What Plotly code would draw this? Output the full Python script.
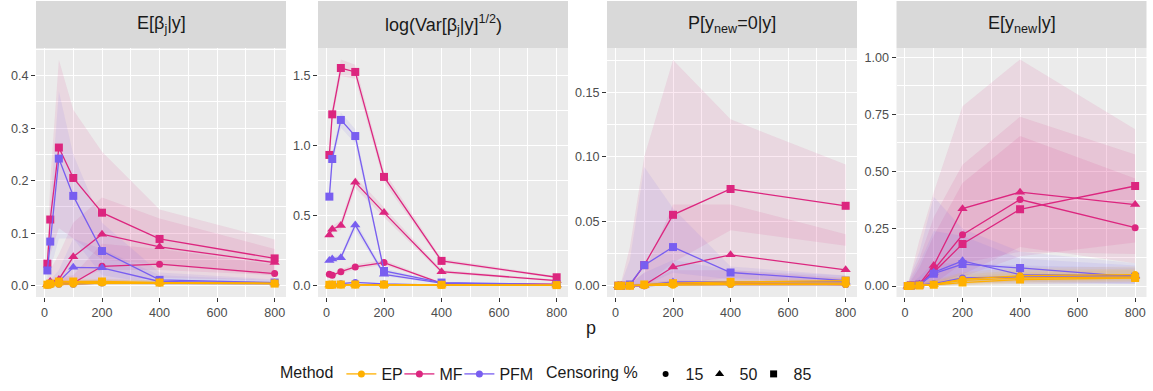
import plotly.graph_objects as go

# ---------------- data ----------------
p_vals = [10, 20, 50, 100, 200, 400, 800]
methods = ["EP", "MF", "PFM"]
censoring = ["15", "50", "85"]
panel_titles = ["E[β<sub>j</sub>|y]", "log(Var[β<sub>j</sub>|y]<sup>1/2</sup>)",
                "P[y<sub>new</sub>=0|y]", "E[y<sub>new</sub>|y]"]

# Panel 1: E[beta_j | y]
e_beta_mean = {
    ("EP", "15"): [0.001, 0.002, 0.003, 0.003, 0.005, 0.005, 0.004],
    ("EP", "50"): [0.002, 0.003, 0.005, 0.006, 0.007, 0.006, 0.005],
    ("EP", "85"): [0.002, 0.004, 0.008, 0.008, 0.008, 0.006, 0.004],
    ("MF", "15"): [0.002, 0.003, 0.005, 0.005, 0.037, 0.041, 0.023],
    ("MF", "50"): [0.003, 0.008, 0.012, 0.055, 0.098, 0.074, 0.044],
    ("MF", "85"): [0.042, 0.126, 0.263, 0.205, 0.139, 0.089, 0.052],
    ("PFM", "15"): [0.001, 0.002, 0.003, 0.003, 0.005, 0.005, 0.004],
    ("PFM", "50"): [0.002, 0.005, 0.008, 0.035, 0.034, 0.008, 0.005],
    ("PFM", "85"): [0.029, 0.084, 0.242, 0.171, 0.066, 0.011, 0.006],
}
e_beta_lo = {
    ("EP", "15"): [0.0, 0.0, 0.0, 0.0, 0.002, 0.002, 0.002],
    ("EP", "50"): [0.0, 0.0, 0.001, 0.002, 0.003, 0.003, 0.002],
    ("EP", "85"): [0.0, 0.001, 0.003, 0.004, 0.004, 0.003, 0.002],
    ("MF", "15"): [0.0, 0.0, 0.0, 0.0, 0.005, 0.015, 0.01],
    ("MF", "50"): [0.0, 0.0, 0.0, 0.01, 0.03, 0.03, 0.02],
    ("MF", "85"): [0.02, 0.06, 0.11, 0.09, 0.05, 0.04, 0.02],
    ("PFM", "15"): [0.0, 0.0, 0.0, 0.0, 0.002, 0.002, 0.002],
    ("PFM", "50"): [0.0, 0.0, 0.0, 0.005, 0.005, 0.002, 0.002],
    ("PFM", "85"): [0.01, 0.03, 0.09, 0.09, 0.02, 0.003, 0.002],
}
e_beta_hi = {
    ("EP", "15"): [0.003, 0.005, 0.007, 0.008, 0.01, 0.009, 0.007],
    ("EP", "50"): [0.005, 0.007, 0.01, 0.011, 0.012, 0.01, 0.008],
    ("EP", "85"): [0.006, 0.009, 0.014, 0.014, 0.013, 0.01, 0.007],
    ("MF", "15"): [0.005, 0.008, 0.015, 0.02, 0.08, 0.07, 0.04],
    ("MF", "50"): [0.01, 0.03, 0.06, 0.12, 0.168, 0.128, 0.07],
    ("MF", "85"): [0.06, 0.2, 0.43, 0.335, 0.255, 0.145, 0.088],
    ("PFM", "15"): [0.003, 0.005, 0.008, 0.009, 0.012, 0.01, 0.008],
    ("PFM", "50"): [0.005, 0.01, 0.03, 0.09, 0.07, 0.02, 0.01],
    ("PFM", "85"): [0.05, 0.15, 0.37, 0.25, 0.12, 0.025, 0.012],
}

# Panel 2: log(Var[beta_j|y]^(1/2))
log_sd_mean = {
    ("EP", "15"): [0.004, 0.005, 0.006, 0.006, 0.006, 0.005, 0.004],
    ("EP", "50"): [0.006, 0.007, 0.008, 0.008, 0.008, 0.006, 0.005],
    ("EP", "85"): [0.008, 0.009, 0.01, 0.01, 0.01, 0.008, 0.006],
    ("MF", "15"): [0.083, 0.076, 0.102, 0.136, 0.167, 0.019, 0.012],
    ("MF", "50"): [0.364, 0.405, 0.431, 0.74, 0.524, 0.102, 0.038],
    ("MF", "85"): [0.936, 1.226, 1.557, 1.529, 0.779, 0.179, 0.062],
    ("PFM", "15"): [0.01, 0.012, 0.015, 0.025, 0.015, 0.006, 0.004],
    ("PFM", "50"): [0.181, 0.193, 0.202, 0.436, 0.083, 0.02, 0.008],
    ("PFM", "85"): [0.638, 0.907, 1.186, 1.071, 0.107, 0.024, 0.01],
}
log_sd_lo = {
    ("EP", "15"): [0.002, 0.003, 0.004, 0.004, 0.004, 0.003, 0.003],
    ("EP", "50"): [0.004, 0.005, 0.006, 0.006, 0.006, 0.004, 0.003],
    ("EP", "85"): [0.006, 0.007, 0.008, 0.008, 0.008, 0.006, 0.004],
    ("MF", "15"): [0.07, 0.065, 0.088, 0.12, 0.15, 0.015, 0.009],
    ("MF", "50"): [0.34, 0.38, 0.4, 0.7, 0.49, 0.09, 0.032],
    ("MF", "85"): [0.9, 1.18, 1.5, 1.48, 0.74, 0.165, 0.055],
    ("PFM", "15"): [0.008, 0.01, 0.012, 0.02, 0.012, 0.005, 0.003],
    ("PFM", "50"): [0.165, 0.175, 0.185, 0.4, 0.07, 0.016, 0.006],
    ("PFM", "85"): [0.6, 0.86, 1.13, 1.02, 0.09, 0.02, 0.008],
}
log_sd_hi = {
    ("EP", "15"): [0.006, 0.007, 0.008, 0.008, 0.008, 0.007, 0.005],
    ("EP", "50"): [0.008, 0.009, 0.01, 0.01, 0.01, 0.008, 0.007],
    ("EP", "85"): [0.01, 0.011, 0.012, 0.012, 0.012, 0.01, 0.008],
    ("MF", "15"): [0.096, 0.09, 0.118, 0.155, 0.185, 0.024, 0.015],
    ("MF", "50"): [0.39, 0.43, 0.465, 0.78, 0.56, 0.115, 0.044],
    ("MF", "85"): [0.97, 1.27, 1.617, 1.58, 0.82, 0.195, 0.07],
    ("PFM", "15"): [0.012, 0.014, 0.018, 0.03, 0.018, 0.007, 0.005],
    ("PFM", "50"): [0.2, 0.21, 0.22, 0.47, 0.1, 0.024, 0.01],
    ("PFM", "85"): [0.68, 0.95, 1.24, 1.12, 0.125, 0.028, 0.012],
}

# Panel 3: P[y_new = 0 | y]
p0_mean = {
    ("EP", "15"): [0.0, 0.0, 0.0, 0.0, 0.0005, 0.001, 0.001],
    ("EP", "50"): [0.0, 0.0, 0.0, 0.0005, 0.001, 0.002, 0.002],
    ("EP", "85"): [0.0, 0.0, 0.0, 0.001, 0.002, 0.003, 0.004],
    ("MF", "15"): [0.0, 0.0, 0.0, 0.0, 0.002, 0.002, 0.001],
    ("MF", "50"): [0.0, 0.0, 0.0, 0.0005, 0.0145, 0.024, 0.0124],
    ("MF", "85"): [0.0, 0.0, 0.0005, 0.016, 0.055, 0.075, 0.062],
    ("PFM", "15"): [0.0, 0.0, 0.0, 0.0, 0.001, 0.001, 0.001],
    ("PFM", "50"): [0.0, 0.0, 0.0, 0.0005, 0.003, 0.003, 0.003],
    ("PFM", "85"): [0.0, 0.0, 0.001, 0.016, 0.03, 0.0103, 0.004],
}
p0_lo = {
    ("EP", "15"): [0.0, 0.0, 0.0, 0.0, 0.0, 0.0, 0.0],
    ("EP", "50"): [0.0, 0.0, 0.0, 0.0, 0.0, 0.0005, 0.0005],
    ("EP", "85"): [0.0, 0.0, 0.0, 0.0, 0.0005, 0.001, 0.002],
    ("MF", "15"): [0.0, 0.0, 0.0, 0.0, 0.0, 0.0, 0.0],
    ("MF", "50"): [0.0, 0.0, 0.0, 0.0, 0.002, 0.006, 0.002],
    ("MF", "85"): [0.0, 0.0, 0.0, 0.0, 0.018, 0.043, 0.031],
    ("PFM", "15"): [0.0, 0.0, 0.0, 0.0, 0.0, 0.0, 0.0],
    ("PFM", "50"): [0.0, 0.0, 0.0, 0.0, 0.0, 0.0, 0.0],
    ("PFM", "85"): [0.0, 0.0, 0.0, 0.0, 0.01, 0.005, 0.001],
}
p0_hi = {
    ("EP", "15"): [0.0, 0.0, 0.0, 0.001, 0.002, 0.003, 0.003],
    ("EP", "50"): [0.0, 0.0, 0.0, 0.002, 0.003, 0.004, 0.004],
    ("EP", "85"): [0.0, 0.0, 0.001, 0.003, 0.004, 0.005, 0.006],
    ("MF", "15"): [0.0, 0.0, 0.0, 0.002, 0.012, 0.012, 0.006],
    ("MF", "50"): [0.0, 0.0, 0.002, 0.01, 0.063, 0.063, 0.04],
    ("MF", "85"): [0.0, 0.003, 0.03, 0.1, 0.175, 0.129, 0.094],
    ("PFM", "15"): [0.0, 0.0, 0.0, 0.002, 0.004, 0.003, 0.002],
    ("PFM", "50"): [0.0, 0.0, 0.001, 0.01, 0.02, 0.012, 0.008],
    ("PFM", "85"): [0.0, 0.002, 0.02, 0.092, 0.06, 0.015, 0.008],
}

# Panel 4: E[y_new | y]
e_ynew_mean = {
    ("EP", "15"): [0.0, 0.001, 0.002, 0.007, 0.03, 0.045, 0.05],
    ("EP", "50"): [0.0, 0.001, 0.002, 0.006, 0.025, 0.035, 0.04],
    ("EP", "85"): [0.0, 0.001, 0.002, 0.005, 0.015, 0.028, 0.035],
    ("MF", "15"): [0.0, 0.002, 0.006, 0.07, 0.224, 0.378, 0.255],
    ("MF", "50"): [0.0, 0.003, 0.008, 0.09, 0.338, 0.41, 0.356],
    ("MF", "85"): [0.0, 0.002, 0.005, 0.06, 0.184, 0.335, 0.437],
    ("PFM", "15"): [0.0, 0.001, 0.003, 0.01, 0.035, 0.04, 0.04],
    ("PFM", "50"): [0.0, 0.002, 0.005, 0.06, 0.11, 0.05, 0.045],
    ("PFM", "85"): [0.0, 0.002, 0.005, 0.054, 0.096, 0.079, 0.04],
}
e_ynew_lo = {
    ("EP", "15"): [0.0, 0.0, 0.0, 0.0, 0.01, 0.02, 0.025],
    ("EP", "50"): [0.0, 0.0, 0.0, 0.0, 0.006, 0.015, 0.02],
    ("EP", "85"): [0.0, 0.0, 0.0, 0.0, 0.002, 0.01, 0.015],
    ("MF", "15"): [0.0, 0.0, 0.0, 0.01, 0.05, 0.17, 0.1],
    ("MF", "50"): [0.0, 0.0, 0.0, 0.01, 0.1, 0.15, 0.14],
    ("MF", "85"): [0.0, 0.0, 0.0, 0.0, 0.04, 0.13, 0.19],
    ("PFM", "15"): [0.0, 0.0, 0.0, 0.0, 0.005, 0.01, 0.01],
    ("PFM", "50"): [0.0, 0.0, 0.0, 0.0, 0.02, 0.01, 0.01],
    ("PFM", "85"): [0.0, 0.0, 0.0, 0.0, 0.01, 0.02, 0.01],
}
e_ynew_hi = {
    ("EP", "15"): [0.002, 0.005, 0.012, 0.025, 0.06, 0.08, 0.085],
    ("EP", "50"): [0.002, 0.005, 0.011, 0.022, 0.05, 0.07, 0.075],
    ("EP", "85"): [0.002, 0.005, 0.01, 0.02, 0.04, 0.06, 0.07],
    ("MF", "15"): [0.005, 0.02, 0.08, 0.22, 0.45, 0.655, 0.47],
    ("MF", "50"): [0.01, 0.04, 0.12, 0.3, 0.53, 0.74, 0.575],
    ("MF", "85"): [0.01, 0.05, 0.2, 0.41, 0.785, 0.99, 0.685],
    ("PFM", "15"): [0.003, 0.01, 0.04, 0.1, 0.1, 0.09, 0.08],
    ("PFM", "50"): [0.005, 0.03, 0.1, 0.24, 0.22, 0.12, 0.09],
    ("PFM", "85"): [0.01, 0.05, 0.15, 0.39, 0.25, 0.15, 0.1],
}

panels = [
    (e_beta_mean, e_beta_lo, e_beta_hi),
    (log_sd_mean, log_sd_lo, log_sd_hi),
    (p0_mean, p0_lo, p0_hi),
    (e_ynew_mean, e_ynew_lo, e_ynew_hi),
]

y_ranges = [[-0.0215, 0.4525], [-0.079, 1.70], [-0.0087, 0.1843], [-0.048, 1.04]]
y_dticks = [0.1, 0.5, 0.05, 0.25]
y_formats = [".1f", ".1f", ".2f", ".2f"]
x_ticks = [0, 200, 400, 600, 800]

# ---------------- styles ----------------
colors = {"EP": "#FFB000", "MF": "#DC267F", "PFM": "#785EF0"}
fills = {"EP": "rgba(255,176,0,0.10)", "MF": "rgba(220,38,127,0.10)",
         "PFM": "rgba(120,94,240,0.10)"}
symbols = {"15": "circle", "50": "triangle-up", "85": "square"}
msizes = {"15": 7, "50": 9, "85": 8}
draw_order = ["MF", "PFM", "EP"]
legend_w_method = {"EP": 13, "MF": 15, "PFM": 36}
legend_w_cens = {"15": 9, "50": 9, "85": 22}

W, H = 1153, 391
panel_px = [(36, 286), (318, 568), (607, 857), (896.5, 1146.5)]
top_px, bot_px = 48, 297
strip_top_px = 1
FONT = "Liberation Sans, Arial, Helvetica, sans-serif"

fig = go.Figure()

for i, (mean_d, lo_d, hi_d) in enumerate(panels):
    xa = "x" if i == 0 else f"x{i+1}"
    ya = "y" if i == 0 else f"y{i+1}"
    # ribbons
    for m in draw_order:
        for c in censoring:
            lo = lo_d[(m, c)]
            hi = hi_d[(m, c)]
            fig.add_trace(go.Scatter(
                x=p_vals + p_vals[::-1], y=hi + lo[::-1],
                fill="toself", fillcolor=fills[m], line=dict(width=0),
                mode="lines", hoverinfo="skip", showlegend=False,
                xaxis=xa, yaxis=ya))
    # lines + points
    for m in draw_order:
        for c in censoring:
            fig.add_trace(go.Scatter(
                x=p_vals, y=mean_d[(m, c)], mode="lines+markers",
                line=dict(color=colors[m], width=1.3),
                marker=dict(symbol=symbols[c], size=msizes[c], color=colors[m],
                            line=dict(width=0)),
                showlegend=False, xaxis=xa, yaxis=ya))

# legend entries
for m in methods:
    fig.add_trace(go.Scatter(x=[None], y=[None], mode="lines+markers", name=m,
                             line=dict(color=colors[m], width=1.3),
                             marker=dict(symbol="circle", size=7, color=colors[m]),
                             legend="legend", showlegend=True,
                             legendwidth=legend_w_method[m]))
for c in censoring:
    fig.add_trace(go.Scatter(x=[None], y=[None], mode="markers", name=c,
                             marker=dict(symbol=symbols[c], size=msizes[c] - 1, color="black"),
                             legend="legend2", showlegend=True,
                             legendwidth=legend_w_cens[c]))

layout = dict(
    width=W, height=H, margin=dict(l=0, r=0, t=0, b=0),
    paper_bgcolor="white", plot_bgcolor="#EBEBEB",
    font=dict(family=FONT, color="#1A1A1A"),
    shapes=[], annotations=[],
)

ydom = [1 - bot_px / H, 1 - top_px / H]
for i in range(4):
    x0, x1 = panel_px[i]
    xk = "xaxis" if i == 0 else f"xaxis{i+1}"
    yk = "yaxis" if i == 0 else f"yaxis{i+1}"
    xa = "x" if i == 0 else f"x{i+1}"
    layout[xk] = dict(
        domain=[x0 / W, x1 / W], anchor=xa.replace("x", "y"),
        range=[-29.5, 839.5], tickvals=x_ticks, showgrid=True,
        gridcolor="white", gridwidth=1.1, zeroline=False,
        ticks="outside", ticklen=4, tickwidth=1, tickcolor="#333333",
        tickfont=dict(size=12.6, color="#4D4D4D"),
        minor=dict(dtick=100, tick0=0, showgrid=True, gridcolor="white", gridwidth=0.55),
        showline=False, automargin=False,
    )
    layout[yk] = dict(
        domain=ydom, anchor=xa, range=y_ranges[i], dtick=y_dticks[i], tick0=0,
        tickformat=y_formats[i], showgrid=True, gridcolor="white", gridwidth=1.1,
        zeroline=False, ticks="outside", ticklen=4, tickwidth=1, tickcolor="#333333",
        tickfont=dict(size=12.6, color="#4D4D4D"),
        minor=dict(dtick=y_dticks[i] / 2, tick0=0, showgrid=True, gridcolor="white",
                   gridwidth=0.55),
        showline=False, automargin=False,
    )
    layout["shapes"].append(dict(
        type="rect", xref="paper", yref="paper", x0=x0 / W, x1=x1 / W,
        y0=1 - top_px / H, y1=1 - strip_top_px / H,
        fillcolor="#D9D9D9", line=dict(width=0), layer="below"))
    layout["annotations"].append(dict(
        text=panel_titles[i], xref="paper", yref="paper",
        x=(x0 + x1) / 2 / W, y=1 - ((strip_top_px + top_px) / 2) / H,
        xanchor="center", yanchor="middle", showarrow=False,
        font=dict(size=18, color="#1A1A1A", family=FONT)))

layout["annotations"].append(dict(
    text="p", xref="paper", yref="paper", x=(36 + 1146.5) / 2 / W, y=1 - 328 / H,
    xanchor="center", yanchor="middle", showarrow=False,
    font=dict(size=18, color="#1A1A1A", family=FONT)))

layout["legend"] = dict(
    orientation="h", x=278 / W, y=0, xanchor="left", yanchor="bottom",
    title=dict(text="Method", side="left", font=dict(size=16)),
    font=dict(size=16, color="#1A1A1A"), bgcolor="rgba(0,0,0,0)",
    itemwidth=30, tracegroupgap=0)
layout["legend2"] = dict(
    orientation="h", x=544 / W, y=0, xanchor="left", yanchor="bottom",
    title=dict(text="Censoring %", side="left", font=dict(size=16)),
    font=dict(size=16, color="#1A1A1A"), bgcolor="rgba(0,0,0,0)",
    itemwidth=30, tracegroupgap=0)

fig.update_layout(**layout)
fig.write_html("out.html")
